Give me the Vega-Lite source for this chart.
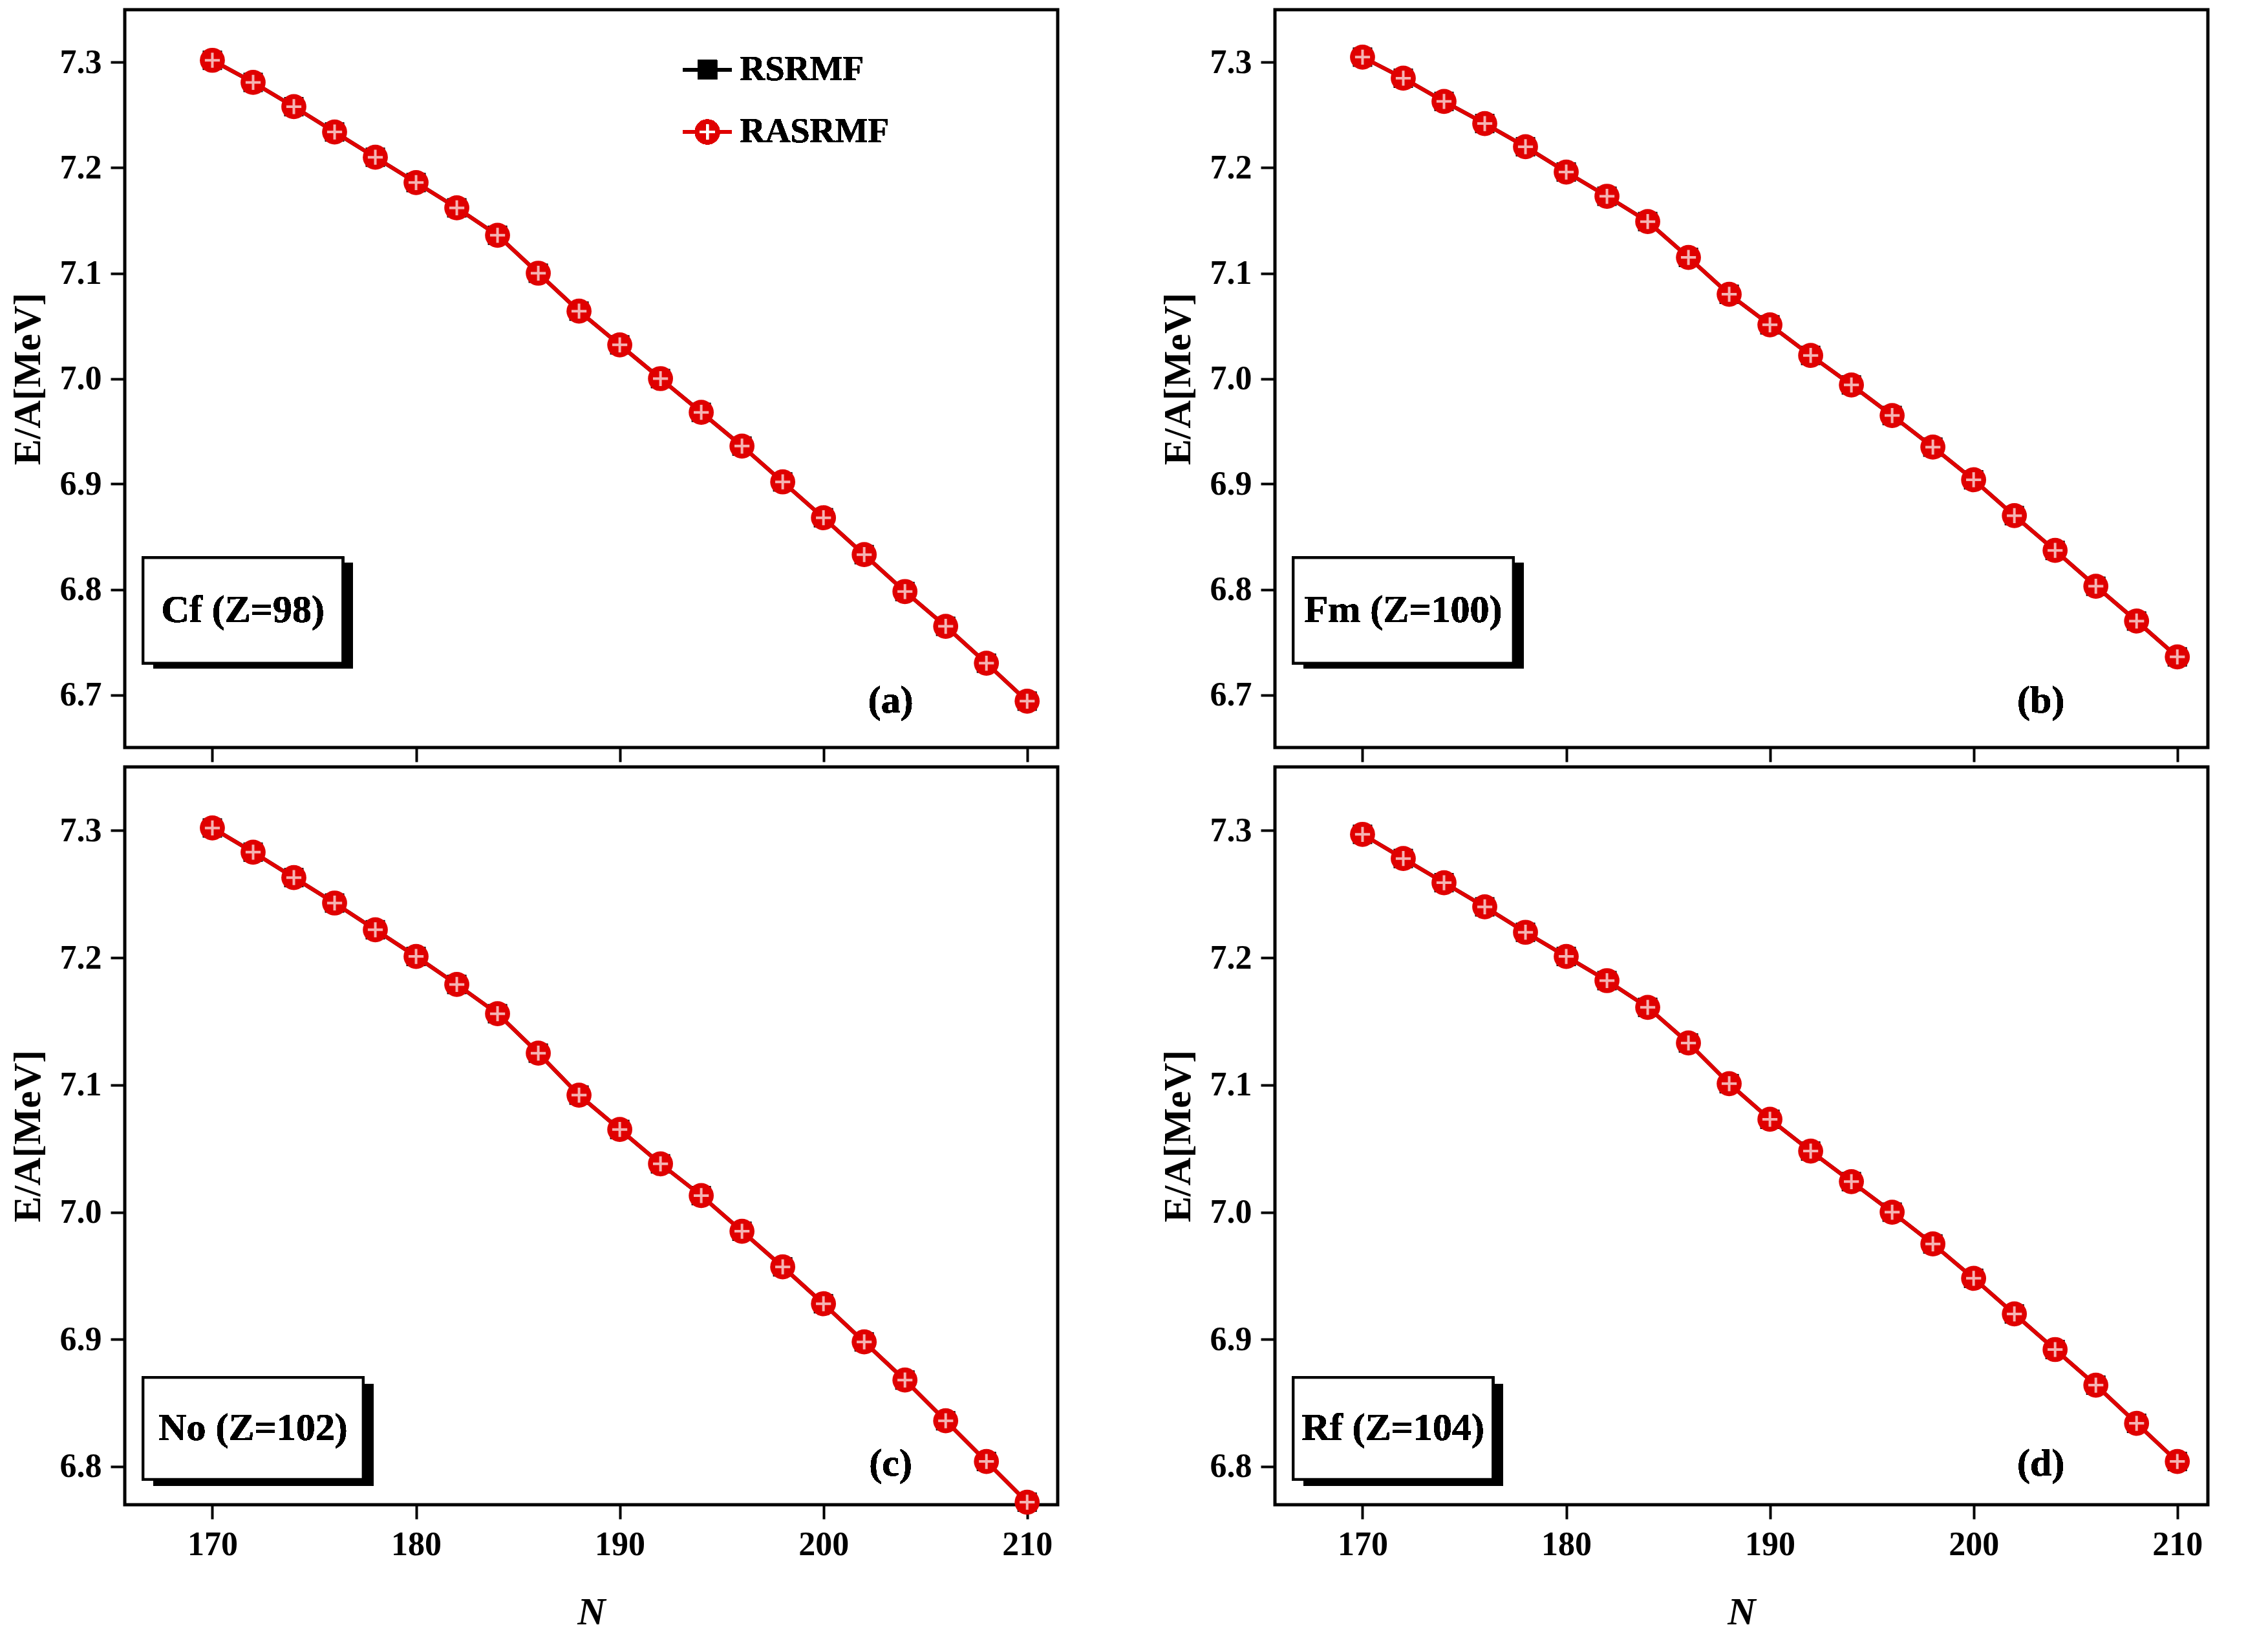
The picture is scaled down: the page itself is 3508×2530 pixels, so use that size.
{
  "$schema": "https://vega.github.io/schema/vega-lite/v6.json",
  "padding": {"left": 10, "top": 12, "right": 10, "bottom": 10},
  "background": "white",
  "config": {
    "font": "Times New Roman, Liberation Serif, serif",
    "text": {"font": "Times New Roman, Liberation Serif, serif"},
    "view": {"stroke": "black", "strokeWidth": 5},
    "axis": {"labelFont": "Times New Roman, Liberation Serif, serif", "labelFontWeight": "bold", "labelFontSize": 52, "labelColor": "black",
             "titleFont": "Times New Roman, Liberation Serif, serif", "titleFontWeight": "bold", "titleFontSize": 60, "titleColor": "black",
             "domain": false, "grid": false, "tickColor": "black", "tickWidth": 4, "tickSize": 22, "labelPadding": 14}
  },
  "datasets": {
    "ea": [
      {"p":"a","N":170,"EA":7.302},{"p":"a","N":172,"EA":7.281},{"p":"a","N":174,"EA":7.258},{"p":"a","N":176,"EA":7.234},{"p":"a","N":178,"EA":7.210},{"p":"a","N":180,"EA":7.186},{"p":"a","N":182,"EA":7.162},{"p":"a","N":184,"EA":7.136},{"p":"a","N":186,"EA":7.100},{"p":"a","N":188,"EA":7.064},{"p":"a","N":190,"EA":7.032},{"p":"a","N":192,"EA":7.000},{"p":"a","N":194,"EA":6.968},{"p":"a","N":196,"EA":6.936},{"p":"a","N":198,"EA":6.902},{"p":"a","N":200,"EA":6.868},{"p":"a","N":202,"EA":6.833},{"p":"a","N":204,"EA":6.798},{"p":"a","N":206,"EA":6.765},{"p":"a","N":208,"EA":6.730},{"p":"a","N":210,"EA":6.694},
      {"p":"b","N":170,"EA":7.305},{"p":"b","N":172,"EA":7.285},{"p":"b","N":174,"EA":7.263},{"p":"b","N":176,"EA":7.242},{"p":"b","N":178,"EA":7.220},{"p":"b","N":180,"EA":7.196},{"p":"b","N":182,"EA":7.173},{"p":"b","N":184,"EA":7.149},{"p":"b","N":186,"EA":7.115},{"p":"b","N":188,"EA":7.080},{"p":"b","N":190,"EA":7.051},{"p":"b","N":192,"EA":7.022},{"p":"b","N":194,"EA":6.994},{"p":"b","N":196,"EA":6.965},{"p":"b","N":198,"EA":6.935},{"p":"b","N":200,"EA":6.904},{"p":"b","N":202,"EA":6.870},{"p":"b","N":204,"EA":6.837},{"p":"b","N":206,"EA":6.803},{"p":"b","N":208,"EA":6.770},{"p":"b","N":210,"EA":6.736},
      {"p":"c","N":170,"EA":7.302},{"p":"c","N":172,"EA":7.283},{"p":"c","N":174,"EA":7.263},{"p":"c","N":176,"EA":7.243},{"p":"c","N":178,"EA":7.222},{"p":"c","N":180,"EA":7.201},{"p":"c","N":182,"EA":7.179},{"p":"c","N":184,"EA":7.156},{"p":"c","N":186,"EA":7.125},{"p":"c","N":188,"EA":7.092},{"p":"c","N":190,"EA":7.065},{"p":"c","N":192,"EA":7.038},{"p":"c","N":194,"EA":7.013},{"p":"c","N":196,"EA":6.985},{"p":"c","N":198,"EA":6.957},{"p":"c","N":200,"EA":6.928},{"p":"c","N":202,"EA":6.898},{"p":"c","N":204,"EA":6.868},{"p":"c","N":206,"EA":6.836},{"p":"c","N":208,"EA":6.804},{"p":"c","N":210,"EA":6.772},
      {"p":"d","N":170,"EA":7.297},{"p":"d","N":172,"EA":7.278},{"p":"d","N":174,"EA":7.259},{"p":"d","N":176,"EA":7.240},{"p":"d","N":178,"EA":7.220},{"p":"d","N":180,"EA":7.201},{"p":"d","N":182,"EA":7.182},{"p":"d","N":184,"EA":7.161},{"p":"d","N":186,"EA":7.133},{"p":"d","N":188,"EA":7.101},{"p":"d","N":190,"EA":7.073},{"p":"d","N":192,"EA":7.048},{"p":"d","N":194,"EA":7.024},{"p":"d","N":196,"EA":7.000},{"p":"d","N":198,"EA":6.975},{"p":"d","N":200,"EA":6.948},{"p":"d","N":202,"EA":6.920},{"p":"d","N":204,"EA":6.892},{"p":"d","N":206,"EA":6.864},{"p":"d","N":208,"EA":6.834},{"p":"d","N":210,"EA":6.804}
    ]
  },
  "vconcat": [
    {"hconcat": [
      {"width": 1443, "height": 1141, "data": {"name": "ea"}, "transform": [{"filter": "datum.p == 'a'"}],
       "encoding": {
         "x": {"field": "N", "type": "quantitative", "scale": {"domain": [165.7, 211.5], "nice": false}, "axis": {"values": [170,180,190,200,210], "labels": false, "title": null}},
         "y": {"field": "EA", "type": "quantitative", "scale": {"domain": [6.65, 7.35], "nice": false, "zero": false}, "axis": {"values": [6.7,6.8,6.9,7.0,7.1,7.2,7.3], "format": ".1f", "title": "E/A[MeV]", "titlePadding": 18}}
       },
       "layer": [
         {"mark": {"type": "line", "strokeWidth": 6, "color": "black", "point": {"shape": "square", "size": 900, "filled": true, "color": "black"}}},
         {"mark": {"type": "line", "strokeWidth": 6, "color": "#e00000", "point": {"shape": "circle", "size": 1500, "filled": true, "color": "#e00000"}}},
         {"mark": {"type": "point", "shape": "M-0.6,0L0.6,0M0,-0.6L0,0.6", "size": 1500, "stroke": "white", "strokeWidth": 4}},
         {"mark": {"type": "rule", "color": "black", "strokeWidth": 6}, "encoding": {"x": {"datum": 193.1}, "x2": {"datum": 195.5}, "y": {"datum": 7.293}}},
         {"mark": {"type": "point", "shape": "square", "size": 900, "filled": true, "color": "black", "opacity": 1}, "encoding": {"x": {"datum": 194.3}, "y": {"datum": 7.293}}},
         {"mark": {"type": "rule", "color": "#e00000", "strokeWidth": 6}, "encoding": {"x": {"datum": 193.1}, "x2": {"datum": 195.5}, "y": {"datum": 7.234}}},
         {"mark": {"type": "point", "shape": "circle", "size": 1500, "filled": true, "color": "#e00000", "opacity": 1}, "encoding": {"x": {"datum": 194.3}, "y": {"datum": 7.234}}},
         {"mark": {"type": "point", "shape": "M-0.6,0L0.6,0M0,-0.6L0,0.6", "size": 1500, "stroke": "white", "strokeWidth": 4}, "encoding": {"x": {"datum": 194.3}, "y": {"datum": 7.234}}},
         {"mark": {"type": "text", "fontSize": 54, "fontWeight": "bold", "align": "left", "baseline": "middle"}, "encoding": {"x": {"datum": 195.9}, "y": {"datum": 7.293}, "text": {"value": "RSRMF"}}},
         {"mark": {"type": "text", "fontSize": 54, "fontWeight": "bold", "align": "left", "baseline": "middle"}, "encoding": {"x": {"datum": 195.9}, "y": {"datum": 7.234}, "text": {"value": "RASRMF"}}},
         {"mark": {"type": "rect", "fill": "black"}, "encoding": {"x": {"datum": 167.1}, "x2": {"datum": 176.9}, "y": {"datum": 6.825}, "y2": {"datum": 6.725}}},
         {"mark": {"type": "rect", "fill": "white", "stroke": "black", "strokeWidth": 4}, "encoding": {"x": {"datum": 166.6}, "x2": {"datum": 176.4}, "y": {"datum": 6.83}, "y2": {"datum": 6.73}}},
         {"mark": {"type": "text", "fontSize": 60, "fontWeight": "bold", "baseline": "middle"}, "encoding": {"x": {"datum": 171.5}, "y": {"datum": 6.78}, "text": {"value": "Cf (Z=98)"}}},
         {"mark": {"type": "text", "fontSize": 60, "fontWeight": "bold", "baseline": "middle"}, "encoding": {"x": {"datum": 203.3}, "y": {"datum": 6.694}, "text": {"value": "(a)"}}}
       ]},
      {"width": 1443, "height": 1141, "data": {"name": "ea"}, "transform": [{"filter": "datum.p == 'b'"}],
       "encoding": {
         "x": {"field": "N", "type": "quantitative", "scale": {"domain": [165.7, 211.5], "nice": false}, "axis": {"values": [170,180,190,200,210], "labels": false, "title": null}},
         "y": {"field": "EA", "type": "quantitative", "scale": {"domain": [6.65, 7.35], "nice": false, "zero": false}, "axis": {"values": [6.7,6.8,6.9,7.0,7.1,7.2,7.3], "format": ".1f", "title": "E/A[MeV]", "titlePadding": 18}}
       },
       "layer": [
         {"mark": {"type": "line", "strokeWidth": 6, "color": "black", "point": {"shape": "square", "size": 900, "filled": true, "color": "black"}}},
         {"mark": {"type": "line", "strokeWidth": 6, "color": "#e00000", "point": {"shape": "circle", "size": 1500, "filled": true, "color": "#e00000"}}},
         {"mark": {"type": "point", "shape": "M-0.6,0L0.6,0M0,-0.6L0,0.6", "size": 1500, "stroke": "white", "strokeWidth": 4}},
         {"mark": {"type": "rect", "fill": "black"}, "encoding": {"x": {"datum": 167.1}, "x2": {"datum": 177.9}, "y": {"datum": 6.825}, "y2": {"datum": 6.725}}},
         {"mark": {"type": "rect", "fill": "white", "stroke": "black", "strokeWidth": 4}, "encoding": {"x": {"datum": 166.6}, "x2": {"datum": 177.4}, "y": {"datum": 6.83}, "y2": {"datum": 6.73}}},
         {"mark": {"type": "text", "fontSize": 60, "fontWeight": "bold", "baseline": "middle"}, "encoding": {"x": {"datum": 172}, "y": {"datum": 6.78}, "text": {"value": "Fm (Z=100)"}}},
         {"mark": {"type": "text", "fontSize": 60, "fontWeight": "bold", "baseline": "middle"}, "encoding": {"x": {"datum": 203.3}, "y": {"datum": 6.694}, "text": {"value": "(b)"}}}
       ]}
    ], "spacing": 150},
    {"hconcat": [
      {"width": 1443, "height": 1141, "data": {"name": "ea"}, "transform": [{"filter": "datum.p == 'c'"}],
       "encoding": {
         "x": {"field": "N", "type": "quantitative", "scale": {"domain": [165.7, 211.5], "nice": false}, "axis": {"values": [170,180,190,200,210], "title": "N", "titleFontStyle": "italic", "titlePadding": 50}},
         "y": {"field": "EA", "type": "quantitative", "scale": {"domain": [6.77, 7.35], "nice": false, "zero": false}, "axis": {"values": [6.8,6.9,7.0,7.1,7.2,7.3], "format": ".1f", "title": "E/A[MeV]", "titlePadding": 18}}
       },
       "layer": [
         {"mark": {"type": "line", "strokeWidth": 6, "color": "black", "point": {"shape": "square", "size": 900, "filled": true, "color": "black"}}},
         {"mark": {"type": "line", "strokeWidth": 6, "color": "#e00000", "point": {"shape": "circle", "size": 1500, "filled": true, "color": "#e00000"}}},
         {"mark": {"type": "point", "shape": "M-0.6,0L0.6,0M0,-0.6L0,0.6", "size": 1500, "stroke": "white", "strokeWidth": 4}},
         {"mark": {"type": "rect", "fill": "black"}, "encoding": {"x": {"datum": 167.1}, "x2": {"datum": 177.9}, "y": {"datum": 6.865}, "y2": {"datum": 6.785}}},
         {"mark": {"type": "rect", "fill": "white", "stroke": "black", "strokeWidth": 4}, "encoding": {"x": {"datum": 166.6}, "x2": {"datum": 177.4}, "y": {"datum": 6.87}, "y2": {"datum": 6.79}}},
         {"mark": {"type": "text", "fontSize": 60, "fontWeight": "bold", "baseline": "middle"}, "encoding": {"x": {"datum": 172}, "y": {"datum": 6.83}, "text": {"value": "No (Z=102)"}}},
         {"mark": {"type": "text", "fontSize": 60, "fontWeight": "bold", "baseline": "middle"}, "encoding": {"x": {"datum": 203.3}, "y": {"datum": 6.802}, "text": {"value": "(c)"}}}
       ]},
      {"width": 1443, "height": 1141, "data": {"name": "ea"}, "transform": [{"filter": "datum.p == 'd'"}],
       "encoding": {
         "x": {"field": "N", "type": "quantitative", "scale": {"domain": [165.7, 211.5], "nice": false}, "axis": {"values": [170,180,190,200,210], "title": "N", "titleFontStyle": "italic", "titlePadding": 50}},
         "y": {"field": "EA", "type": "quantitative", "scale": {"domain": [6.77, 7.35], "nice": false, "zero": false}, "axis": {"values": [6.8,6.9,7.0,7.1,7.2,7.3], "format": ".1f", "title": "E/A[MeV]", "titlePadding": 18}}
       },
       "layer": [
         {"mark": {"type": "line", "strokeWidth": 6, "color": "black", "point": {"shape": "square", "size": 900, "filled": true, "color": "black"}}},
         {"mark": {"type": "line", "strokeWidth": 6, "color": "#e00000", "point": {"shape": "circle", "size": 1500, "filled": true, "color": "#e00000"}}},
         {"mark": {"type": "point", "shape": "M-0.6,0L0.6,0M0,-0.6L0,0.6", "size": 1500, "stroke": "white", "strokeWidth": 4}},
         {"mark": {"type": "rect", "fill": "black"}, "encoding": {"x": {"datum": 167.1}, "x2": {"datum": 176.9}, "y": {"datum": 6.865}, "y2": {"datum": 6.785}}},
         {"mark": {"type": "rect", "fill": "white", "stroke": "black", "strokeWidth": 4}, "encoding": {"x": {"datum": 166.6}, "x2": {"datum": 176.4}, "y": {"datum": 6.87}, "y2": {"datum": 6.79}}},
         {"mark": {"type": "text", "fontSize": 60, "fontWeight": "bold", "baseline": "middle"}, "encoding": {"x": {"datum": 171.5}, "y": {"datum": 6.83}, "text": {"value": "Rf (Z=104)"}}},
         {"mark": {"type": "text", "fontSize": 60, "fontWeight": "bold", "baseline": "middle"}, "encoding": {"x": {"datum": 203.3}, "y": {"datum": 6.802}, "text": {"value": "(d)"}}}
       ]}
    ], "spacing": 150}
  ],
  "spacing": 0
}
